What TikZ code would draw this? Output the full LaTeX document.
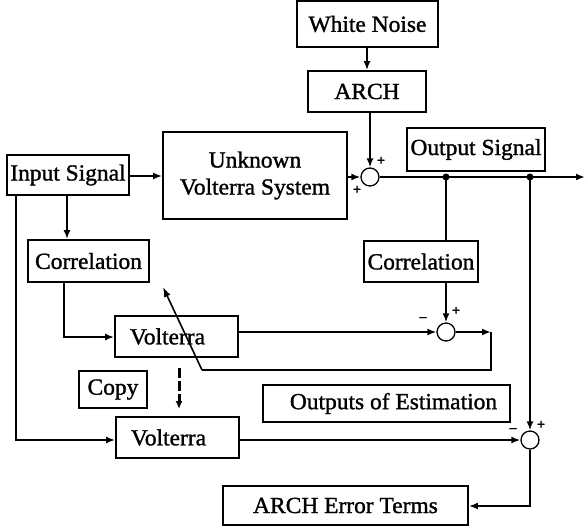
\documentclass[tikz,border=0pt]{standalone}
\usepackage{fontspec}
\setmainfont{Liberation Serif}[FakeStretch=1.02,FakeBold=1.3]
\usetikzlibrary{arrows.meta}
\begin{document}
\begin{tikzpicture}[x=1pt,y=-1pt,
  box/.style={draw, line width=1.8pt, inner sep=0pt, font=\fontsize{23}{27}\selectfont, align=center},
  sumnode/.style={draw, circle, minimum size=18pt, inner sep=0pt, line width=1.3pt},
  arr/.style={line width=1.8pt, -{Latex[length=9pt,width=7pt]}},
  ln/.style={line width=1.8pt},
  sign/.style={font=\bfseries\fontsize{14}{14}\selectfont, inner sep=0pt},
  dotnode/.style={circle, fill, minimum size=7pt, inner sep=0pt}]
\useasboundingbox (0,0) rectangle (585,528);
% boxes
\node[box, minimum width=141pt, minimum height=46pt] (wn) at (367.5,24) {White Noise};
\node[box, minimum width=118pt, minimum height=41pt] (arch) at (367,91.5) {ARCH};
\node[box, minimum width=184pt, minimum height=87pt] (uvs) at (255,175.5) {Unknown\\Volterra System};
\node[box, minimum width=122pt, minimum height=40pt] (inp) at (68,175) {Input Signal};
\node[box, minimum width=138pt, minimum height=43pt] (outs) at (476,149.5) {Output Signal};
\node[box, minimum width=121pt, minimum height=42pt] (corrl) at (88.5,261) {Correlation};
\node[box, minimum width=114pt, minimum height=41pt] (corrr) at (421,261.5) {Correlation};
\node[box, minimum width=123pt, minimum height=41pt] (vm) at (176.5,336.5) {Volterra\hspace*{18pt}};
\node[box, minimum width=68pt, minimum height=37pt] (copy) at (113,389.5) {Copy};
\node[box, minimum width=247pt, minimum height=37pt] (oe) at (386.5,403.5) {\hspace*{14pt}Outputs of Estimation};
\node[box, minimum width=123pt, minimum height=41pt] (vb) at (177.5,437.5) {Volterra\hspace*{18pt}};
\node[box, minimum width=245pt, minimum height=39pt] (aet) at (345.5,505.5) {ARCH Error Terms};
% summing junctions
\node[sumnode] (s1) at (370,177) {};
\node[sumnode] (s2) at (446,332) {};
\node[sumnode] (s3) at (530,440) {};
% dots
\node[dotnode] (d1) at (446,177) {};
\node[dotnode] (d2) at (530,177) {};
% coordinates
\coordinate (out) at (585,177);
\coordinate (c1) at (491,332);
\coordinate (c2) at (491,370);
\coordinate (c3) at (202,370);
\coordinate (c4) at (163,287);
\coordinate (ia) at (16,195);
\coordinate (ib) at (16,440);
\coordinate (ic) at (67,195);
\coordinate (la) at (64,282);
\coordinate (lb) at (64,337);
\coordinate (e1) at (530,506);
\coordinate (k1) at (179,368);
\coordinate (k2) at (179,409);
% connectors
\draw[arr] (wn.south -| arch) -- (arch.north);
\draw[arr] (arch.south -| s1.north) -- (s1.north);
\draw[arr] (inp.east |- 0,176) -- (uvs.west |- 0,176);
\draw[arr] (uvs.east |- s1) -- (s1.west);
\draw[arr] (s1.east) -- (out);
\draw[ln] (d1.center) -- (corrr.north -| d1);
\draw[arr] (corrr.south -| s2) -- (s2.north);
\draw[arr] (d2.center) -- (s3.north);
\draw[arr] (ic) -- (corrl.north -| ic);
\draw[arr] (ia) -- (ib) -- (vb.west |- ib);
\draw[arr] (la) -- (lb) -- (vm.west |- lb);
\draw[arr] (vm.east |- s2) -- (s2.west);
\draw[arr] (s2.east) -- (c1);
\draw[ln] (c1) -- (c2) -- (c3);
\draw[line width=1.6pt, -{Latex[length=10pt,width=7pt]}] (c3) -- (c4);
\draw[arr] (vb.east |- s3) -- (s3.west);
\draw[arr] (s3.south) -- (e1) -- (aet.east |- e1);
\draw[line width=3pt, dash pattern=on 10pt off 3pt, -{Latex[length=8pt,width=7pt]}] (k1) -- (k2);
% signs
\node[sign] (p1) at (381,161) {+};
\node[sign] (p2) at (357,190) {+};
\node[sign] (p3) at (456,311) {+};
\node[sign] (m3) at (423,319) {–};
\node[sign] (p4) at (541,425) {+};
\node[sign] (m4) at (513,430) {–};
\end{tikzpicture}
\end{document}
